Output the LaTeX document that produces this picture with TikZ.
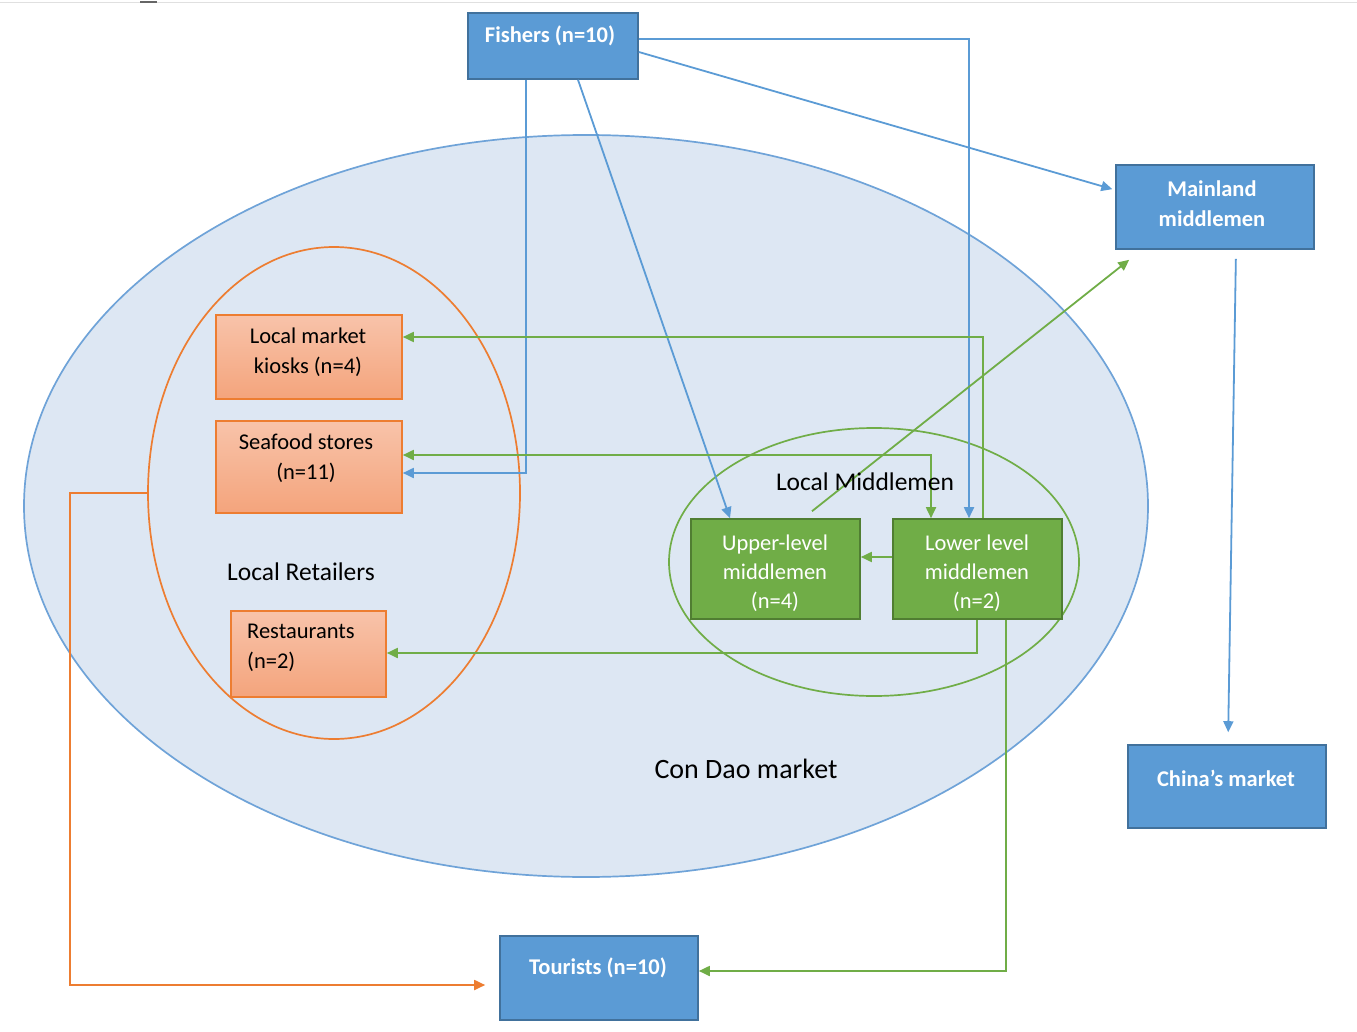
\documentclass[tikz,border=0pt]{standalone}
\usepackage{fontspec}
\setmainfont{Carlito}
\usetikzlibrary{arrows.meta,shapes.geometric,calc}
\definecolor{bfill}{HTML}{5B9BD5}
\definecolor{bborder}{HTML}{41719C}
\definecolor{gfill}{HTML}{70AD47}
\definecolor{gborder}{HTML}{507E32}
\definecolor{oline}{HTML}{ED7D31}
\definecolor{otop}{HTML}{F8C3AA}
\definecolor{obot}{HTML}{F4A47C}
\definecolor{mfill}{HTML}{DDE7F3}
\definecolor{mline}{HTML}{6FA3D8}
\begin{document}
\begin{tikzpicture}[x=1pt,y=-1pt,
  box/.style={rectangle, draw, line width=1.6pt, inner sep=0pt},
  bluebox/.style={box, fill=bfill, draw=bborder},
  greenbox/.style={box, fill=gfill, draw=gborder},
  orangebox/.style={box, draw=oline, top color=otop, bottom color=obot},
  bluetxt/.style={text=white, font=\fontsize{22.5}{30}\selectfont\bfseries, align=center, inner sep=0pt},
  greentxt/.style={text=white, font=\fontsize{22.5}{29}\selectfont, align=center, inner sep=0pt},
  orangetxt/.style={text=black, font=\fontsize{22.5}{30}\selectfont, align=center, inner sep=0pt},
  grouptxt/.style={text=black, font=\fontsize{25.5}{28}\selectfont, inner sep=0pt},
  tip/.style={-{Triangle[length=11pt,width=10pt]}},
  bconn/.style={tip, draw=bfill, line width=1.8pt},
  gconn/.style={tip, draw=gfill, line width=1.8pt},
  oconn/.style={tip, draw=oline, line width=1.8pt},
]
\useasboundingbox (0,0) rectangle (1357,1032);
% top rule
\draw[line width=1pt, draw=black!12] (0,3) -- (1357,3);
\draw[line width=1.5pt, draw=black!60] (140,2) -- (157,2);

% group ellipses
\node[ellipse, draw=mline, fill=mfill, line width=1.7pt, minimum width=1124pt, minimum height=742pt, inner sep=0pt] (market) at (586,506) {};
\node[ellipse, draw=oline, line width=1.7pt, minimum width=372pt, minimum height=492pt, inner sep=0pt] (retail) at (334,493) {};
\node[ellipse, draw=gfill, line width=1.7pt, minimum width=410pt, minimum height=268pt, inner sep=0pt] (localmid) at (874,562) {};

% boxes
\node[bluebox, minimum width=170pt, minimum height=66pt] (fish) at (553,46) {};
\node[bluebox, minimum width=198pt, minimum height=84pt] (main) at (1215,207) {};
\node[bluebox, minimum width=198pt, minimum height=83pt] (china) at (1227,786.5) {};
\node[bluebox, minimum width=198pt, minimum height=84pt] (tour) at (599,978) {};
\node[orangebox, minimum width=186pt, minimum height=84pt] (kiosk) at (309,357) {};
\node[orangebox, minimum width=186pt, minimum height=92pt] (sea) at (309,467) {};
\node[orangebox, minimum width=155pt, minimum height=86pt] (rest) at (308.5,654) {};
\node[greenbox, minimum width=169pt, minimum height=100pt] (upper) at (775.5,569) {};
\node[greenbox, minimum width=169pt, minimum height=100pt] (lower) at (977.5,569) {};

% connectors (blue)
\draw[bconn] ([yshift=7pt]fish.east) -| ([xshift=-8.5pt]lower.north);
\draw[bconn, shorten >=3pt] ([yshift=-6pt]fish.east) -- ([yshift=17pt]main.west);
\draw[bconn] ([xshift=-27pt]fish.south) |- ([yshift=-6pt]sea.east);
\draw[bconn] ([xshift=25pt]fish.south) -- ([xshift=-45.5pt]upper.north);
\draw[bconn, shorten <=9pt, shorten >=12pt] ([xshift=21pt]main.south) -- ([xshift=1pt]china.north);

% connectors (green)
\draw[gconn] ([xshift=5.5pt]lower.north) |- ([yshift=20pt]kiosk.east);
\draw[gconn, {Triangle[length=11pt,width=10pt]}-{Triangle[length=11pt,width=10pt]}] ([yshift=12pt]sea.east) -| ([xshift=-46.5pt]lower.north);
\draw[gconn] ([yshift=12pt]lower.west) -- ([yshift=12pt]upper.east);
\coordinate (mainfoot) at ([xshift=14pt,yshift=-10pt]main.south west);
\draw[gconn] ([xshift=36.5pt,yshift=7pt]upper.north) -- (mainfoot);
\draw[gconn] ([xshift=-0.5pt]lower.south) |- ([yshift=1pt]rest.east);
\draw[gconn] ([xshift=28.5pt]lower.south) |- ([yshift=7pt]tour.east);

% connector (orange)
\coordinate (ocorner) at (70,985);
\draw[oconn, shorten >=14pt] (retail.west) -| (ocorner) -- ([yshift=-7pt]tour.west);

% texts
\node[bluetxt] (tfish) at (550,36) {Fishers (n=10)};
\node[bluetxt] (tmain) at (1212,204) {Mainland\\middlemen};
\node[bluetxt] (tchina) at (1226,778) {China’s market};
\node[bluetxt] (ttour) at (598,968) {Tourists (n=10)};
\node[orangetxt] (tkiosk) at (308,352) {Local market\\kiosks (n=4)};
\node[orangetxt] (tsea) at (306,458) {Seafood stores\\(n=11)};
\node[orangetxt, align=left, anchor=west] (trest) at (247,648) {Restaurants\\(n=2)};
\node[greentxt] (tupper) at (775,573) {Upper-level\\middlemen\\(n=4)};
\node[greentxt] (tlower) at (977,573) {Lower level\\middlemen\\(n=2)};
\node[grouptxt] (tretail) at (301,572) {Local Retailers};
\node[grouptxt] (tlocalmid) at (865,482) {Local Middlemen};
\node[grouptxt, font=\fontsize{28}{32}\selectfont] (tmarket) at (746,769) {Con Dao market};
\end{tikzpicture}
\end{document}
